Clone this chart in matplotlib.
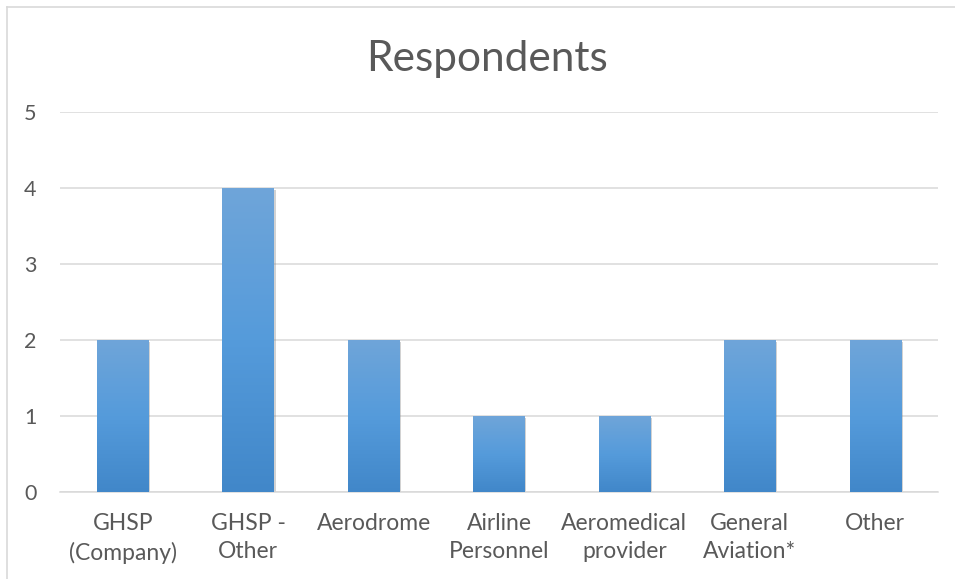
import numpy as np
import matplotlib
matplotlib.use("Agg")
import matplotlib.pyplot as plt
from matplotlib import patheffects
from matplotlib.colors import LinearSegmentedColormap
from matplotlib.lines import Line2D

categories = ["GHSP\n(Company)", "GHSP -\nOther", "Aerodrome", "Airline\nPersonnel",
              "Aeromedical\nprovider", "General\nAviation*", "Other"]
counts = [2, 4, 2, 1, 1, 2, 2]
yticks = [0, 1, 2, 3, 4, 5]

W, H = 955, 579
TXT = "#595959"
GRID = "#d9d9d9"

plt.rcParams["font.family"] = ["Lato", "DejaVu Sans"]
fig = plt.figure(figsize=(W / 100, H / 100), dpi=100)
fig.patch.set_facecolor("white")

# plot area in pixel coordinates of the chart
ax = fig.add_axes([60 / W, (H - 492) / H, (938 - 60) / W, (492 - 112) / H])
ax.set_yticks(yticks)
ax.yaxis.grid(True, color=GRID, lw=1.1)
ax.set_axisbelow(True)
for s in ("top", "right", "left"):
    ax.spines[s].set_visible(False)
ax.spines["bottom"].set_color(GRID)
ax.spines["bottom"].set_linewidth(1.1)
ax.tick_params(axis="both", length=0, labelcolor=TXT)
ax.tick_params(axis="y", pad=17, labelsize=15.5)
ax.tick_params(axis="x", pad=15, labelsize=16.5)
x = np.arange(len(categories))
ax.set_xticks(x)
ax.set_xticklabels(categories, linespacing=1.45)

bars = ax.bar(x, counts, width=0.41, color="#5b9bd5", zorder=2)
shadow = [patheffects.SimplePatchShadow(offset=(1.2, -1.2), shadow_rgbFace="0.5", alpha=0.35),
          patheffects.Normal()]

# vertical gradient fill on each bar
cmap = LinearSegmentedColormap.from_list("bar", ["#4187c9", "#559bdb", "#6fa5d9"])
grad = np.linspace(0, 1, 256).reshape(-1, 1)
for b in bars:
    b.set_path_effects(shadow)
    x0, w, h = b.get_x(), b.get_width(), b.get_height()
    im = ax.imshow(grad, cmap=cmap, origin="lower", aspect="auto",
                   extent=(x0, x0 + w, 0, h), zorder=3)
    im.set_clip_path(b)
ax.set_xlim(-0.5, len(categories) - 0.5)
ax.set_ylim(0, 5)

fig.text(487 / W, 1 - 71 / H, "Respondents", ha="center", va="baseline",
         fontsize=30.5, color=TXT)

# chart area border (top and left edges visible)
fig.add_artist(Line2D([7 / W, 7 / W], [0, 1 - 7 / H], transform=fig.transFigure,
                      color=GRID, lw=1.2))
fig.add_artist(Line2D([7 / W, 1], [1 - 7 / H, 1 - 7 / H], transform=fig.transFigure,
                      color=GRID, lw=1.2))

fig.savefig("out.png", dpi=100)
